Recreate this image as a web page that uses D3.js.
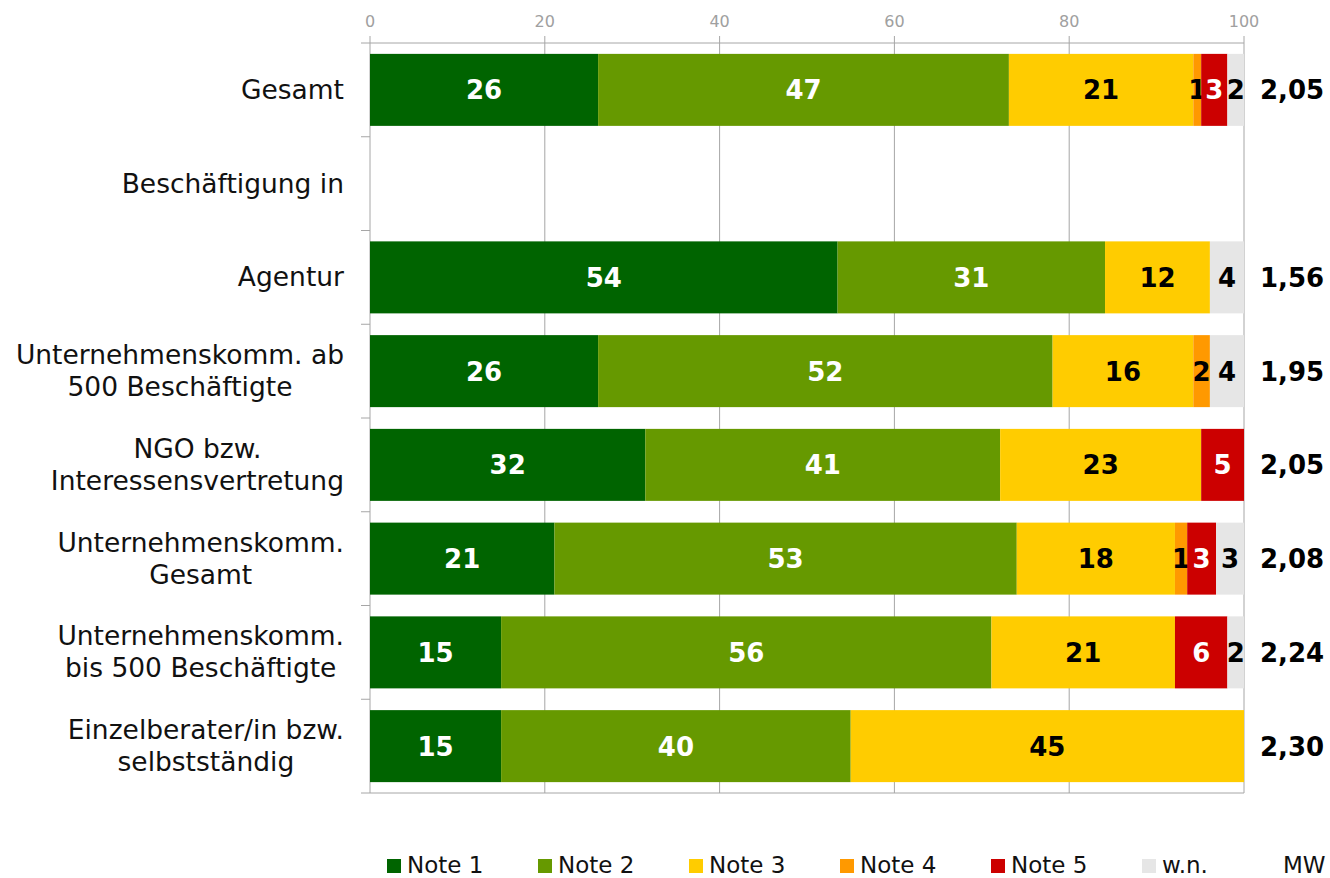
<!DOCTYPE html>
<html>
<head>
<meta charset="utf-8">
<script src="https://cdn.jsdelivr.net/npm/d3@7"></script>
<style>
  body { margin: 0; background: #fff; }
  svg { font-family: "DejaVu Sans", Verdana, sans-serif; }
</style>
</head>
<body>
<script>
// Kategorien (Zeilen), Zeilenumbruch mit "\n"
const categories = [
  "Gesamt",
  "Beschäftigung in",
  "Agentur",
  "Unternehmenskomm. ab\n500 Beschäftigte",
  "NGO bzw.\nInteressensvertretung",
  "Unternehmenskomm.\nGesamt",
  "Unternehmenskomm.\nbis 500 Beschäftigte",
  "Einzelberater/in bzw.\nselbstständig"
];
const seriesNames = ["Note 1", "Note 2", "Note 3", "Note 4", "Note 5", "w.n."];
const seriesColors = ["#006400", "#669900", "#ffcc00", "#ff9900", "#cc0000", "#e6e6e6"];
const labelColors = ["#fff", "#fff", "#000", "#000", "#fff", "#000"];

// Anteile in % je Kategorie (null = keine Werte)
const note1 = [26.1, null, 53.5, 26.1, 31.5, 21.1, 15.0, 15.0];
const note2 = [47.0, null, 30.6, 52.0, 40.6, 52.9, 56.1, 40.0];
const note3 = [21.1, null, 12.0, 16.1, 23.0, 18.1, 21.0, 45.0];
const note4 = [0.9, null, 0, 1.9, 0, 1.4, 0, 0];
const note5 = [3.0, null, 0, 0, 4.9, 3.3, 6.0, 0];
const wn    = [1.9, null, 3.9, 3.9, 0, 3.2, 1.9, 0];
const mw = [2.05, null, 1.56, 1.95, 2.05, 2.08, 2.24, 2.30];
const xTicks = [0, 20, 40, 60, 80, 100];

const series = [note1, note2, note3, note4, note5, wn];

const W = 1330, H = 878;
const mLeft = 370, mRight = 1244, mTop = 43, mBottom = 793;

const svg = d3.select("body").append("svg")
  .attr("width", W)
  .attr("height", H);

const x = d3.scaleLinear().domain([0, 100]).range([mLeft, mRight]);
const y = d3.scaleBand().domain(categories).range([mTop, mBottom]).paddingInner(0.232).paddingOuter(0.116);

// Gitterlinien + Achse oben
svg.append("g").selectAll("line.grid")
  .data(xTicks.slice(1))
  .enter().append("line")
  .attr("x1", d => x(d)).attr("x2", d => x(d))
  .attr("y1", mTop - 7).attr("y2", mBottom)
  .attr("stroke", "#a6a6a6").attr("stroke-width", 1);

svg.append("line").attr("x1", x(0)).attr("x2", x(0)).attr("y1", mTop - 7).attr("y2", mBottom)
  .attr("stroke", "#a6a6a6");
svg.append("line").attr("x1", mLeft - 9).attr("x2", mRight).attr("y1", mTop).attr("y2", mTop)
  .attr("stroke", "#a6a6a6");
svg.append("line").attr("x1", mLeft - 9).attr("x2", mRight).attr("y1", mBottom).attr("y2", mBottom)
  .attr("stroke", "#a6a6a6");

// linke Ticks an den Kategoriegrenzen
const step = y.step();
svg.append("g").selectAll("line")
  .data(d3.range(1, categories.length))
  .enter().append("line")
  .attr("x1", mLeft - 9).attr("x2", mLeft)
  .attr("y1", i => mTop + i * step).attr("y2", i => mTop + i * step)
  .attr("stroke", "#a6a6a6");

svg.append("g").selectAll("text")
  .data(xTicks)
  .enter().append("text")
  .attr("x", d => x(d)).attr("y", 27)
  .attr("text-anchor", "middle")
  .attr("font-size", 16)
  .attr("fill", "#a0a0a0")
  .text(d => d);

// Balken
categories.forEach((cat, ci) => {
  if (note1[ci] === null) return;
  let acc = 0;
  series.forEach((s, si) => {
    const v = s[ci];
    if (!v) return;
    const x0 = x(acc), x1 = x(acc + v);
    acc += v;
    svg.append("rect")
      .attr("x", x0).attr("y", y(cat))
      .attr("width", x1 - x0).attr("height", y.bandwidth())
      .attr("fill", seriesColors[si]);
    svg.append("text")
      .attr("x", (x0 + x1) / 2)
      .attr("y", y(cat) + y.bandwidth() / 2 + 9.5)
      .attr("text-anchor", "middle")
      .attr("font-size", 26).attr("font-weight", "bold")
      .attr("fill", labelColors[si])
      .text(Math.round(v));
  });
});

// Mittelwerte
svg.append("g").selectAll("text")
  .data(categories.map((c, i) => ({c, v: mw[i]})).filter(d => d.v !== null))
  .enter().append("text")
  .attr("x", 1260)
  .attr("y", d => y(d.c) + y.bandwidth() / 2 + 9.5)
  .attr("font-size", 26).attr("font-weight", "bold")
  .text(d => d.v.toFixed(2).replace(".", ","));

// Kategorie-Beschriftung (mehrzeilig, zentriert, rechtsbündiger Block)
categories.forEach(cat => {
  const lines = cat.split("\n");
  const cy = y(cat) + y.bandwidth() / 2;
  const g = svg.append("g");
  const texts = lines.map((ln, li) => g.append("text")
    .attr("y", cy + 9 + (li - (lines.length - 1) / 2) * 32)
    .attr("font-size", 26.5)
    .attr("fill", "#111")
    .attr("text-anchor", "middle")
    .text(ln));
  const maxW = d3.max(texts, t => t.node().getComputedTextLength());
  texts.forEach(t => t.attr("x", 344 - maxW / 2));
});

// Legende
const lg = svg.append("g").selectAll("g")
  .data(seriesNames)
  .enter().append("g")
  .attr("transform", (d, i) => `translate(${387 + i * 151},859)`);
lg.append("rect").attr("width", 14).attr("height", 14).attr("fill", (d, i) => seriesColors[i]);
lg.append("text").attr("x", 20).attr("y", 14)
  .attr("font-size", 23).attr("fill", "#111")
  .text(d => d);
svg.append("text").attr("x", 1283).attr("y", 873)
  .attr("font-size", 23).attr("fill", "#111")
  .text("MW");
</script>
</body>
</html>
